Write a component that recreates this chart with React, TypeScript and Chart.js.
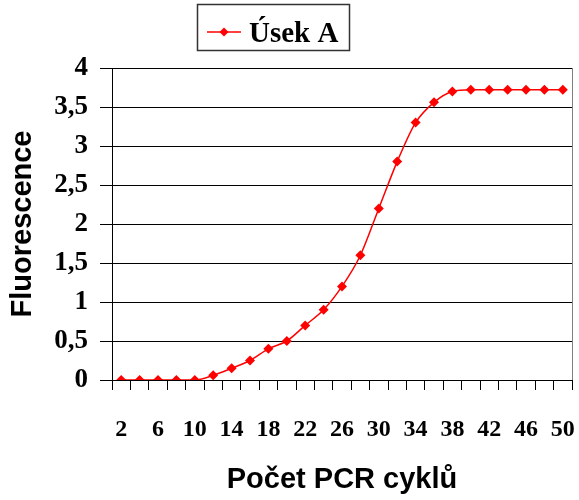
import React, { useEffect, useRef } from "react";
import { Chart, registerables } from "chart.js";

Chart.register(...registerables);

const cycles = [
  "2", "4", "6", "8", "10", "12", "14", "16", "18", "20", "22", "24", "26",
  "28", "30", "32", "34", "36", "38", "40", "42", "44", "46", "48", "50",
];
const fluorescence = [
  0, 0, 0, 0, 0, 0.06, 0.15, 0.25, 0.4, 0.5, 0.7, 0.9, 1.2, 1.6, 2.2, 2.8,
  3.3, 3.56, 3.7, 3.72, 3.72, 3.72, 3.72, 3.72, 3.72,
];
const seriesName = "Úsek A";
const xTitle = "Počet PCR cyklů";
const yTitle = "Fluorescence";

const SERIF = "'Liberation Serif', 'Times New Roman', serif";
const SANS = "'Liberation Sans', Arial, sans-serif";
const RED = "#ff0000";

const frameAndLegend = {
  id: "frameAndLegend",
  afterDraw(chart: any) {
    const ctx = chart.ctx;
    const a = chart.chartArea;
    ctx.save();
    // right frame edge
    ctx.strokeStyle = "#808080";
    ctx.lineWidth = 1;
    ctx.beginPath();
    ctx.moveTo(Math.round(a.right) + 0.5, a.top);
    ctx.lineTo(Math.round(a.right) + 0.5, a.bottom);
    ctx.stroke();

    // legend box
    const bx = 197, by = 4, bw = 152, bh = 46;
    ctx.strokeStyle = "#333";
    ctx.lineWidth = 1.5;
    ctx.strokeRect(bx + 0.5, by + 0.5, bw, bh);
    const ly = by + 28;
    ctx.strokeStyle = RED;
    ctx.lineWidth = 1.5;
    ctx.beginPath();
    ctx.moveTo(bx + 10, ly);
    ctx.lineTo(bx + 44, ly);
    ctx.stroke();
    ctx.fillStyle = RED;
    const cx = bx + 27, r = 4.5;
    ctx.beginPath();
    ctx.moveTo(cx, ly - r);
    ctx.lineTo(cx + r, ly);
    ctx.lineTo(cx, ly + r);
    ctx.lineTo(cx - r, ly);
    ctx.closePath();
    ctx.fill();
    ctx.fillStyle = "#000";
    ctx.font = `bold 29px ${SERIF}`;
    ctx.textBaseline = "alphabetic";
    ctx.textAlign = "left";
    ctx.fillText(seriesName, bx + 52, by + 38);
    ctx.restore();
  },
};

export default function App() {
  const ref = useRef<HTMLCanvasElement | null>(null);

  useEffect(() => {
    document.body.style.margin = "0";
    const canvas = ref.current;
    if (!canvas) return;
    const chart = new Chart(canvas, {
      type: "line",
      data: {
        labels: cycles,
        datasets: [
          {
            label: seriesName,
            data: fluorescence,
            borderColor: RED,
            backgroundColor: RED,
            borderWidth: 1.5,
            pointStyle: "rectRot",
            pointRadius: 5,
            pointBorderWidth: 0,
            pointBackgroundColor: RED,
            cubicInterpolationMode: "monotone",
            fill: false,
          },
        ],
      },
      options: {
        responsive: false,
        animation: false,
        devicePixelRatio: 1,
        layout: { padding: { top: 68, right: 7, left: 0, bottom: 0 } },
        plugins: {
          legend: { display: false },
          tooltip: { enabled: false },
        },
        scales: {
          x: {
            type: "category",
            offset: true,
            afterFit: (s: any) => {
              s.height = 120;
              s.paddingLeft = 0;
              s.paddingRight = 0;
            },
            grid: {
              offset: true,
              drawOnChartArea: false,
              drawTicks: true,
              tickLength: 10,
              color: "#000",
            },
            border: { display: true, color: "#000", width: 1 },
            ticks: {
              autoSkip: false,
              maxRotation: 0,
              padding: 25,
              color: "#000",
              font: { family: SERIF, size: 24, weight: "bold" },
              callback: (_v: any, i: number) => (i % 2 === 0 ? cycles[i] : ""),
            },
            title: {
              display: true,
              text: xTitle,
              color: "#000",
              font: { family: SANS, size: 29, weight: "bold" },
              padding: { top: 0, bottom: 3 },
            },
          },
          y: {
            min: 0,
            max: 4,
            afterFit: (s: any) => {
              s.width = 112;
            },
            grid: {
              color: "#000",
              lineWidth: 1,
              tickLength: 12,
            },
            border: { display: true, color: "#000", width: 1 },
            ticks: {
              stepSize: 0.5,
              padding: 12,
              color: "#000",
              font: { family: SERIF, size: 27, weight: "bold" },
              callback: (v: any) => String(v).replace(".", ","),
            },
            title: {
              display: true,
              text: yTitle,
              color: "#000",
              font: { family: SANS, size: 29, weight: "bold" },
              padding: { top: 6, bottom: 0 },
            },
          },
        },
      },
      plugins: [frameAndLegend],
    });
    return () => chart.destroy();
  }, []);

  return <canvas ref={ref} width={579} height={500} style={{ display: "block" }} />;
}
